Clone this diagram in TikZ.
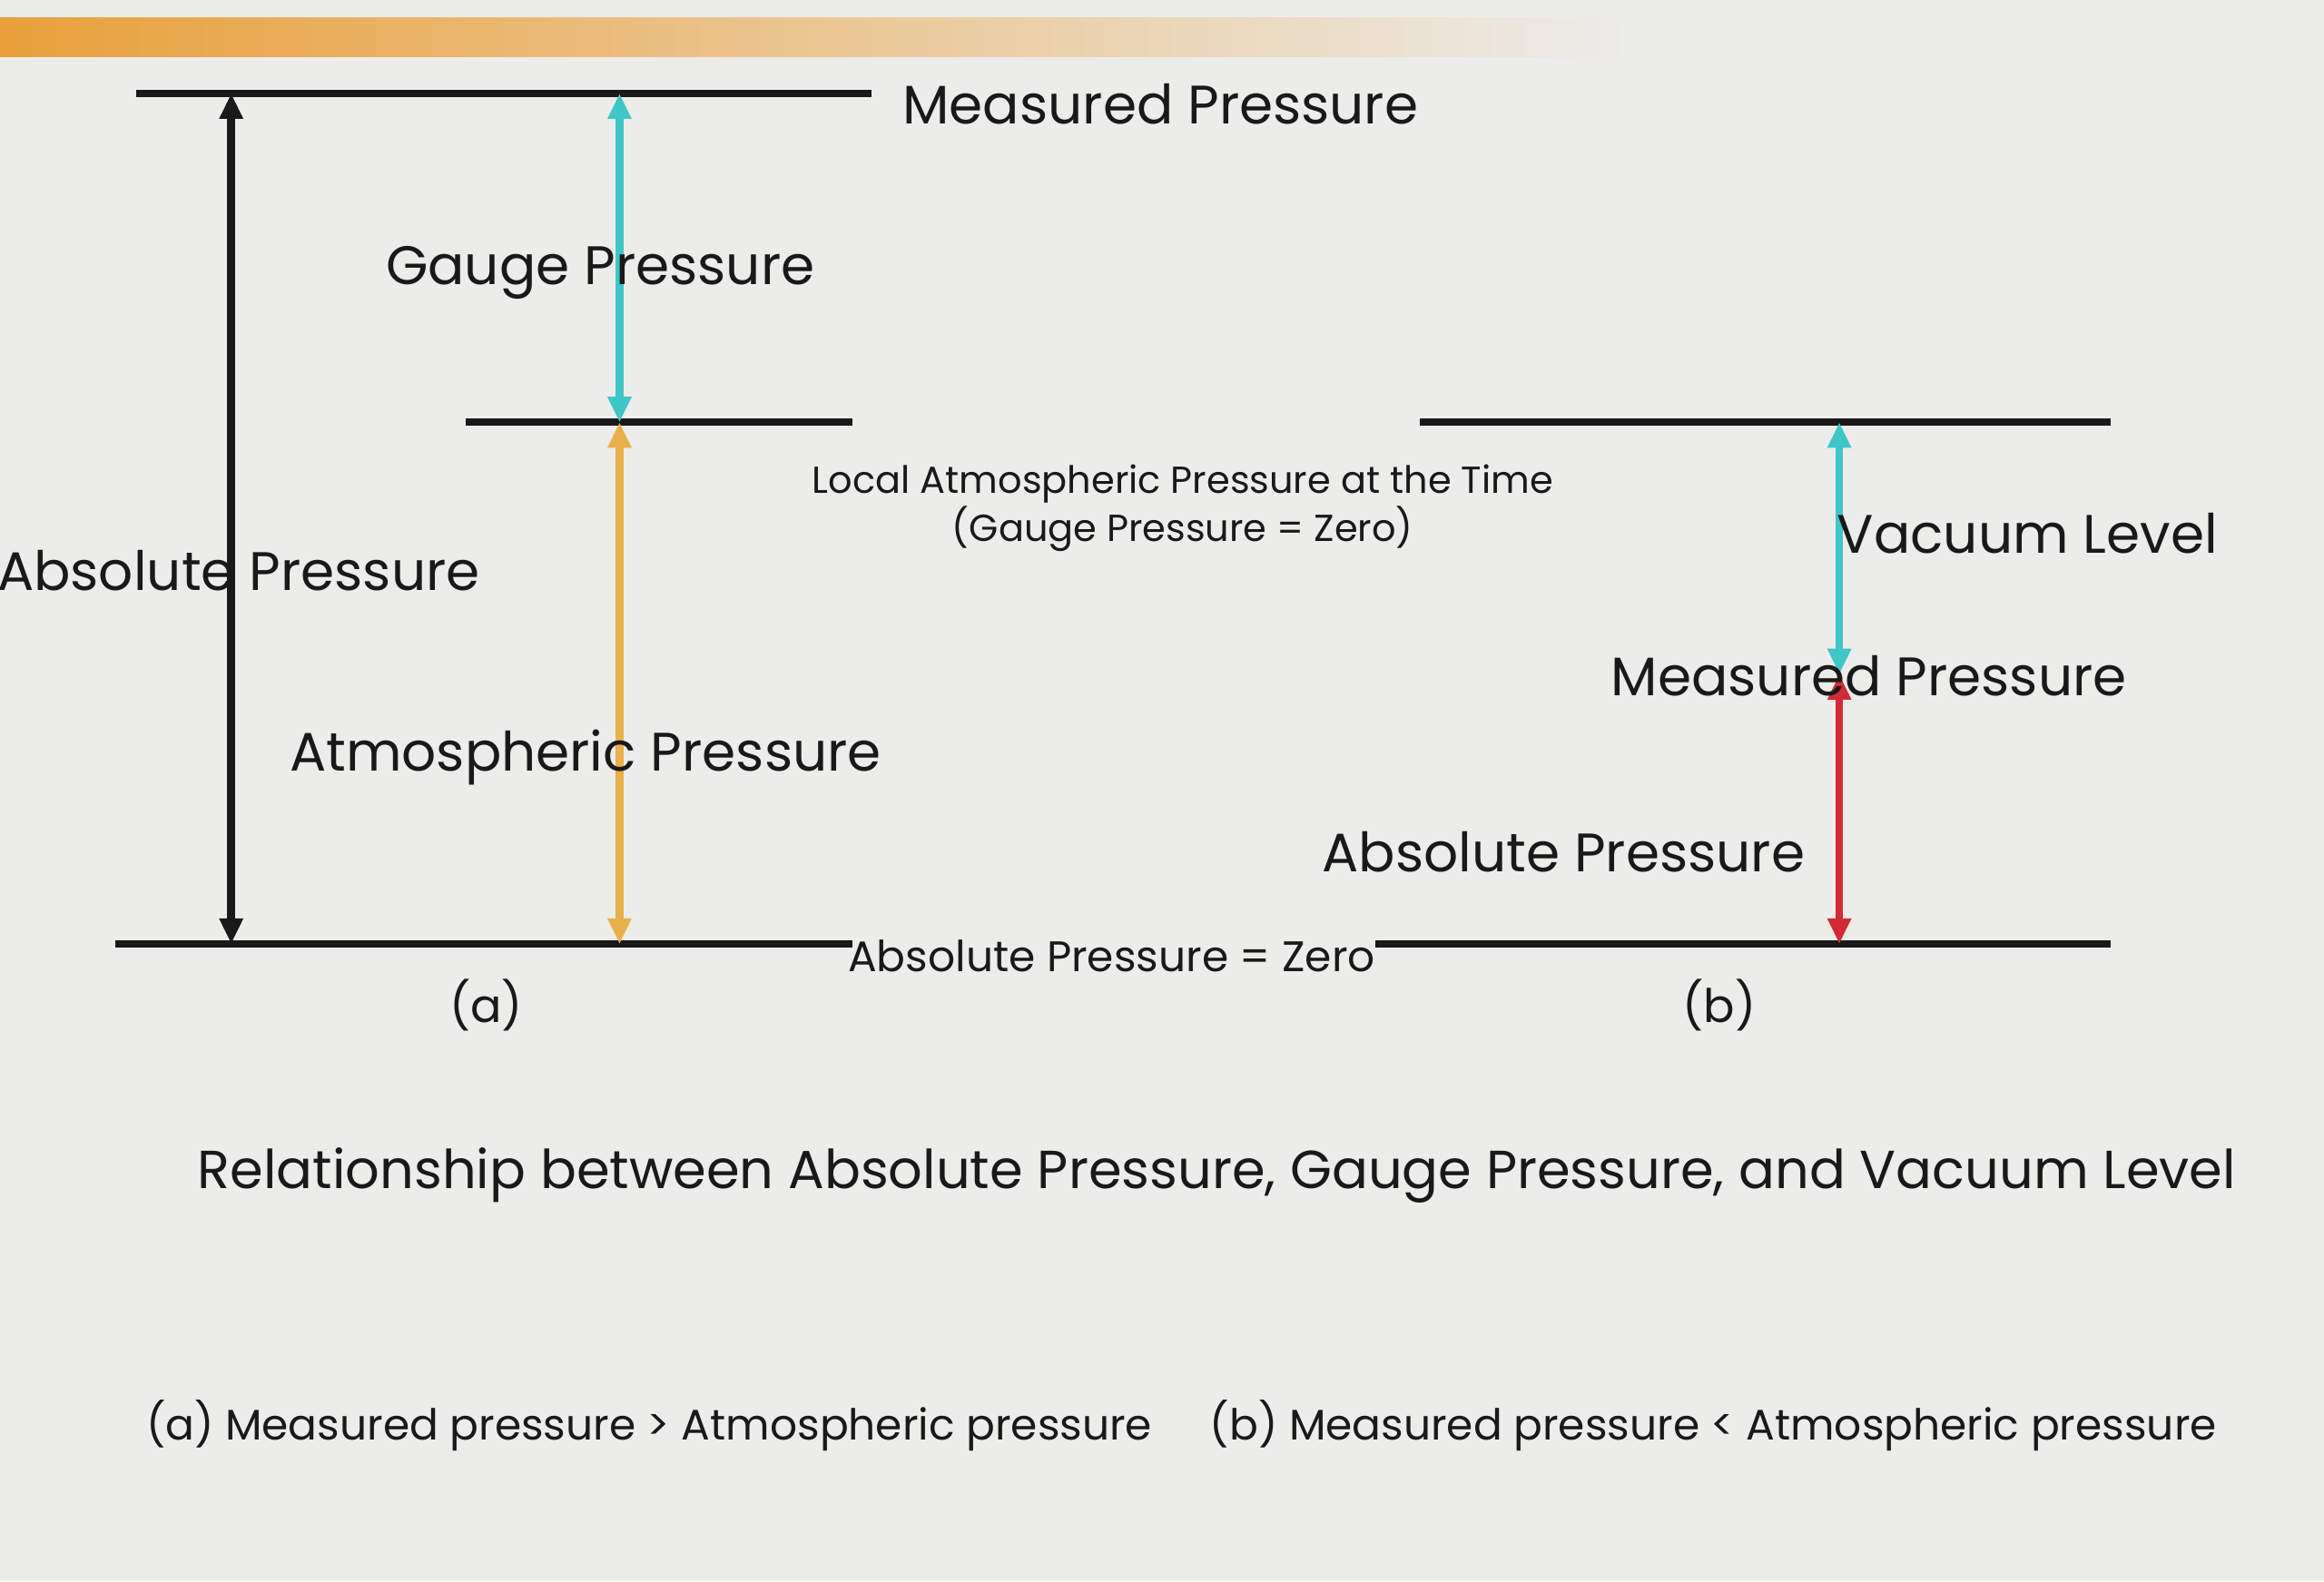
\documentclass[tikz,border=0pt]{standalone}
\usepackage{fontspec}
\setmainfont{Poppins}
\usetikzlibrary{arrows.meta, positioning}
\definecolor{bgcol}{HTML}{ECECEA}
\definecolor{barcol}{HTML}{E9A03A}
\definecolor{cyancol}{HTML}{3EC6C8}
\definecolor{ambercol}{HTML}{E8B04A}
\definecolor{redcol}{HTML}{D42A35}
\begin{document}
\begin{tikzpicture}[
	x=0.01633cm, y=-0.01633cm,
	level/.style={line width=2.2pt, black!90},
	span/.style={{Triangle[length=8pt,width=7pt]}-{Triangle[length=8pt,width=7pt]}, line width=2.4pt},
	lab/.style={font=\fontsize{17}{20}\selectfont, text=black!90, inner sep=1pt},
	note/.style={font=\fontsize{11.8}{15}\selectfont, text=black!90, align=center, inner sep=1pt},
	capt/.style={font=\fontsize{13.4}{15}\selectfont, text=black!90, inner sep=1pt}
]
\fill[bgcol] (0,0) rectangle (1568,1067);
\useasboundingbox (0,0) rectangle (1568,1067);
\shade[left color=barcol, right color=bgcol] (0,12) rectangle (1100,38);

% levels
\coordinate (atop) at (92,63);   \coordinate (atopR) at (588,63);
\coordinate (amid) at (314,285); \coordinate (amidR) at (575,285);
\coordinate (abot) at (78,637);  \coordinate (abotR) at (575,637);
\coordinate (btop) at (958,285); \coordinate (btopR) at (1424,285);
\coordinate (bbot) at (928,637); \coordinate (bbotR) at (1424,637);
\draw[level] (atop) -- (atopR);
\draw[level] (amid) -- (amidR);
\draw[level] (abot) -- (abotR);
\draw[level] (btop) -- (btopR);
\draw[level] (bbot) -- (bbotR);

% arrows
\coordinate (k1) at (156,63);  \coordinate (k2) at (156,637);
\coordinate (g1) at (418,63);  \coordinate (g2) at (418,285);
\coordinate (g3) at (418,637);
\coordinate (v1) at (1241,285); \coordinate (v2) at (1241,455);
\coordinate (v3) at (1241,637);
\draw[span, black!90] (k1) -- (k2);
\draw[span, cyancol] (g1) -- (g2);
\draw[span, ambercol] (g2) -- (g3);
\draw[span, cyancol] (v1) -- (v2);
\draw[span, redcol] (v2) -- (v3);

% labels
\node[lab] (measA) at (783,70) {Measured Pressure};
\node[lab] (gauge) at (405,184) {Gauge Pressure};
\node[lab] (absA) at (161,385) {Absolute Pressure};
\node[lab] (atmo) at (395,511) {Atmospheric Pressure};
\node[note] (local) at (798,343) {Local Atmospheric Pressure at the Time\\(Gauge Pressure = Zero)};
\node[lab] (vac) at (1368,360) {Vacuum Level};
\node[lab] (measB) at (1261,456) {Measured Pressure};
\node[lab] (absB) at (1055,575) {Absolute Pressure};
\node[capt] (zero) at (750,645) {Absolute Pressure = Zero};
\node[lab, font=\fontsize{14.5}{17}\selectfont] (capa) at (328,678) {(a)};
\node[lab, font=\fontsize{14.5}{17}\selectfont] (capb) at (1160,678) {(b)};
\node[lab, font=\fontsize{16.8}{20}\selectfont] (title) at (821,793) {Relationship between Absolute Pressure, Gauge Pressure, and Vacuum Level};
\node[capt] (notea) at (438,962) {(a) Measured pressure > Atmospheric pressure};
\node[capt] (noteb) at (1156,962) {(b) Measured pressure < Atmospheric pressure};
\end{tikzpicture}
\end{document}
